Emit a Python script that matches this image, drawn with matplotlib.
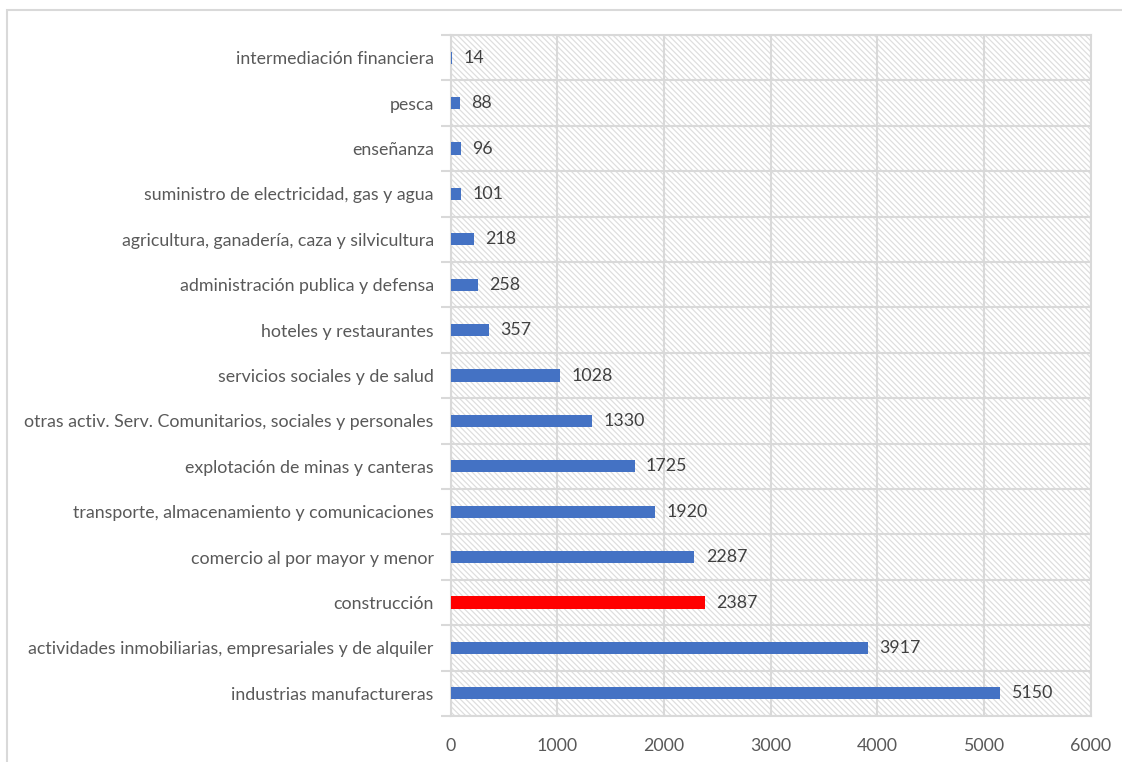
import matplotlib.pyplot as plt
from matplotlib.patches import Rectangle

# data, top to bottom as in the chart
sectores = [
    "intermediación financiera",
    "pesca",
    "enseñanza",
    "suministro de electricidad, gas y agua",
    "agricultura, ganadería, caza y silvicultura",
    "administración publica y defensa",
    "hoteles y restaurantes",
    "servicios sociales y de salud",
    "otras activ. Serv. Comunitarios, sociales y personales",
    "explotación de minas y canteras",
    "transporte, almacenamiento y comunicaciones",
    "comercio al por mayor y menor",
    "construcción",
    "actividades inmobiliarias, empresariales y de alquiler",
    "industrias manufactureras",
]
valores = [14, 88, 96, 101, 218, 258, 357, 1028, 1330, 1725, 1920, 2287, 2387, 3917, 5150]
destacado = "construcción"
x_ticks = [0, 1000, 2000, 3000, 4000, 5000, 6000]

plt.rcParams['font.family'] = ['Lato', 'DejaVu Sans']
plt.rcParams['hatch.linewidth'] = 0.9

grid_col = '#D9D9D9'
text_col = '#595959'
fs = 12.8

fig = plt.figure(figsize=(11.22, 7.62), dpi=100)
ax = fig.add_axes([450.5 / 1122, 1 - 716 / 762, 640 / 1122, 681 / 762])

# outer chart border
fig.patches.append(Rectangle((7 / 1122, -0.1), 1.1, 1 - 10 / 762 + 0.1,
                             transform=fig.transFigure, fill=False,
                             edgecolor=grid_col, linewidth=1.5))

# hatched plot background
ax.add_patch(Rectangle((0, 0), 1, 1, transform=ax.transAxes, facecolor='white',
                       edgecolor='#DEDEDE', linewidth=0, hatch='\\\\\\\\\\\\', zorder=0))

n = len(sectores)
ypos = list(range(n))
colores = ['#FF0000' if s == destacado else '#4472C4' for s in sectores]
ax.barh(ypos, valores, height=0.27, color=colores, zorder=3)

for y, v in zip(ypos, valores):
    ax.text(v + 105, y, str(v), va='center', ha='left', fontsize=fs,
            color='#404040', zorder=4)

ax.set_xlim(0, 6000)
ax.set_ylim(n - 0.5, -0.5)
ax.set_xticks(x_ticks)
ax.set_yticks(ypos)
ax.set_yticklabels(sectores)
ax.set_yticks([i - 0.5 for i in range(n + 1)], minor=True)

ax.tick_params(axis='y', which='major', length=0, pad=12, labelsize=fs, labelcolor=text_col)
ax.tick_params(axis='y', which='minor', length=7, color=grid_col, width=1.5)
ax.tick_params(axis='x', length=0, pad=16, labelsize=fs, labelcolor=text_col)

ax.grid(axis='x', color=grid_col, linewidth=1.5, zorder=1)
ax.grid(axis='y', which='minor', color=grid_col, linewidth=1.5, zorder=1)
ax.set_axisbelow(True)
for sp in ax.spines.values():
    sp.set_color(grid_col)
    sp.set_linewidth(1.5)

plt.savefig('out.png', dpi=100)
